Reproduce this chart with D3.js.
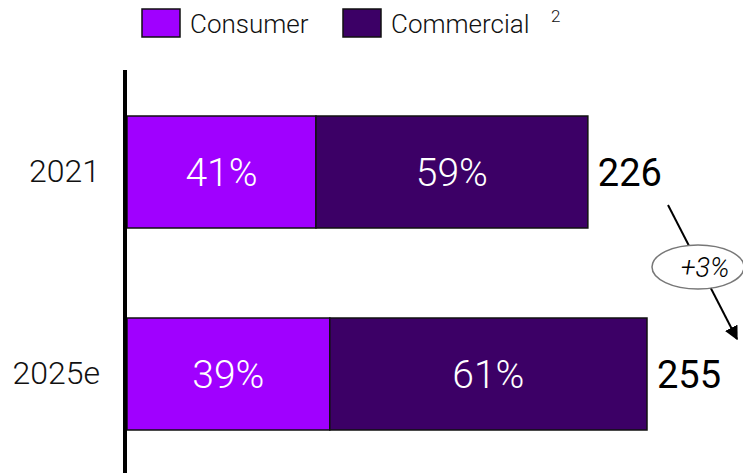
<!DOCTYPE html>
<html>
<head>
<meta charset="utf-8">
<script src="https://cdn.jsdelivr.net/npm/d3@7"></script>
<style>
  body { margin: 0; background: #fff; }
  svg { display: block; font-family: Roboto, "Liberation Sans", sans-serif; font-weight: 300; }
</style>
</head>
<body>
<div id="chart"></div>
<script>
// data
var years = ["2021", "2025e"];
var totals = [226, 255];
var consumerShare = [41, 39];
var commercialShare = [59, 61];
var seriesNames = ["Consumer", "Commercial"];
var growthLabel = "+3%";

var svgWidth = 743;
var svgHeight = 473;

var colors = { Consumer: "#a000ff", Commercial: "#3c0066" };

var svg = d3.select("#chart")
  .append("svg")
  .attr("width", svgWidth)
  .attr("height", svgHeight);

// scales
var xScale = d3.scaleLinear()
  .domain([0, 255])
  .range([127, 647]);

var yScale = d3.scaleBand()
  .domain(years)
  .range([71, 475])
  .paddingInner(90 / 202)
  .paddingOuter(45 / 202);

// build stacked rows
var rows = years.map(function(y, i) {
  var cons = totals[i] * consumerShare[i] / 100;
  return {
    year: y,
    total: totals[i],
    segs: [
      { name: "Consumer", x0: 0, x1: cons, pct: consumerShare[i] },
      { name: "Commercial", x0: cons, x1: totals[i], pct: commercialShare[i] }
    ]
  };
});

var rowG = svg.selectAll("g.row")
  .data(rows)
  .enter()
  .append("g")
  .attr("class", "row");

function segsOf(d) {
  return d.segs.map(function(s) { return Object.assign({ year: d.year }, s); });
}

rowG.selectAll("rect")
  .data(segsOf)
  .enter()
  .append("rect")
  .attr("x", function(d) { return xScale(d.x0); })
  .attr("y", function(d) { return yScale(d.year); })
  .attr("width", function(d) { return xScale(d.x1) - xScale(d.x0); })
  .attr("height", yScale.bandwidth())
  .attr("fill", function(d) { return colors[d.name]; })
  .attr("stroke", "#111")
  .attr("stroke-width", 1.5);

rowG.selectAll("text.pct")
  .data(segsOf)
  .enter()
  .append("text")
  .attr("class", "pct")
  .attr("x", function(d) { return (xScale(d.x0) + xScale(d.x1)) / 2; })
  .attr("y", function(d) { return yScale(d.year) + yScale.bandwidth() / 2; })
  .attr("dy", "0.36em")
  .attr("text-anchor", "middle")
  .attr("fill", "#fff")
  .style("font-size", "39px")
  .text(function(d) { return d.pct + "%"; });

// totals
rowG.append("text")
  .attr("x", function(d) { return xScale(d.total) + 10; })
  .attr("y", function(d) { return yScale(d.year) + yScale.bandwidth() / 2; })
  .attr("dy", "0.36em")
  .attr("fill", "#000")
  .style("font-size", "38px")
  .style("font-weight", 400)
  .text(function(d) { return d.total; });

// y axis: thick line + year labels
var yAxis = d3.axisLeft(yScale).tickSize(0).tickPadding(25);
var axisG = svg.append("g")
  .attr("transform", "translate(125,0)")
  .call(yAxis);
axisG.select(".domain").remove();
axisG.selectAll("text")
  .style("font-size", "32px")
  .style("font-family", "Roboto, 'Liberation Sans', sans-serif")
  .style("font-weight", 300)
  .attr("fill", "#111");

svg.append("line")
  .attr("x1", 125).attr("x2", 125)
  .attr("y1", 70).attr("y2", svgHeight)
  .attr("stroke", "#000")
  .attr("stroke-width", 4);

// legend
var legend = svg.append("g");
var legendX = [142, 343];
seriesNames.forEach(function(name, i) {
  legend.append("rect")
    .attr("x", legendX[i]).attr("y", 9)
    .attr("width", 38).attr("height", 28)
    .attr("fill", colors[name])
    .attr("stroke", "#111")
    .attr("stroke-width", 1.5);
  legend.append("text")
    .attr("x", legendX[i] + 48).attr("y", 24)
    .attr("dy", "0.36em")
    .style("font-size", "26px")
    .attr("fill", "#111")
    .text(name);
});
legend.append("text")
  .attr("x", 551).attr("y", 22)
  .style("font-size", "17px")
  .attr("fill", "#111")
  .text("2");

// growth arrow
svg.append("defs").append("marker")
  .attr("id", "arrow")
  .attr("viewBox", "0 0 10 10")
  .attr("refX", 9).attr("refY", 5)
  .attr("markerWidth", 7).attr("markerHeight", 7)
  .attr("orient", "auto")
  .append("path")
  .attr("d", "M0,0 L10,5 L0,10 z")
  .attr("fill", "#000");

svg.append("line")
  .attr("x1", 668).attr("y1", 205)
  .attr("x2", 737).attr("y2", 339)
  .attr("stroke", "#000")
  .attr("stroke-width", 2)
  .attr("marker-end", "url(#arrow)");

svg.append("ellipse")
  .attr("cx", 698).attr("cy", 267)
  .attr("rx", 46).attr("ry", 22)
  .attr("fill", "#fff")
  .attr("stroke", "#777")
  .attr("stroke-width", 1.5);

svg.append("text")
  .attr("x", 705).attr("y", 267)
  .attr("dy", "0.36em")
  .attr("text-anchor", "middle")
  .style("font-size", "27px")
  .style("font-style", "italic")
  .attr("fill", "#000")
  .text(growthLabel);
</script>
</body>
</html>
